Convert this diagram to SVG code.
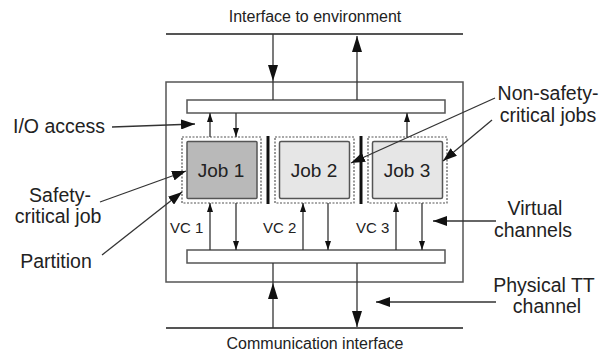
<svg xmlns="http://www.w3.org/2000/svg" width="608" height="354" viewBox="0 0 608 354">
<style>
text{font-family:"Liberation Sans",Arial,sans-serif;fill:#222;}
.bl{font-size:16px;text-anchor:middle;}
.lbl{font-size:19.5px;}
.job{font-size:19px;text-anchor:middle;}
.vc{font-size:15px;}
.ln{stroke:#333;stroke-width:1.3;fill:none;}
.bus{stroke:#555;stroke-width:2;fill:none;}
.box{stroke:#555;stroke-width:1.5;fill:#fff;}
.part{stroke:#555;stroke-width:1.2;stroke-dasharray:2 1.5;fill:none;}
.sep{stroke:#111;stroke-width:3;}
</style>
<defs>
<marker id="big" markerUnits="userSpaceOnUse" viewBox="0 0 16 10" refX="16" refY="5" markerWidth="16" markerHeight="10" orient="auto"><path d="M0,0 L16,5 L0,10 Z" fill="#111"/></marker>
<marker id="sm" markerUnits="userSpaceOnUse" viewBox="0 0 9 6" refX="9" refY="3" markerWidth="9" markerHeight="6" orient="auto"><path d="M0,0 L9,3 L0,6 Z" fill="#111"/></marker>
<marker id="lab" markerUnits="userSpaceOnUse" viewBox="0 0 14 10" refX="14" refY="5" markerWidth="14" markerHeight="10" orient="auto"><path d="M0,0 L14,5 L0,10 Z" fill="#111"/></marker>
</defs>

<g id="buses">
<line class="bus" x1="166" y1="34" x2="463" y2="34"/>
<line class="bus" x1="166" y1="328" x2="463" y2="328"/>
</g>

<g id="node-outer"><rect class="box" x="166" y="82" width="297" height="200"/></g>
<g id="bar-top"><rect class="box" x="187" y="100" width="258" height="13"/></g>
<g id="bar-bottom"><rect class="box" x="187" y="250" width="258" height="13"/></g>

<g id="job1">
<rect class="part" x="182" y="137" width="79" height="66"/>
<rect x="187" y="141.5" width="70" height="57" rx="1" fill="#b9b9b9" stroke="#555" stroke-width="1.5"/>
<text class="job" x="221" y="177">Job 1</text>
</g>
<g id="job2">
<rect class="part" x="275" y="137" width="79" height="66"/>
<rect x="279.5" y="141.5" width="70" height="57" rx="1.5" fill="#e6e6e6" stroke="#555" stroke-width="1.5"/>
<text class="job" x="314" y="177">Job 2</text>
</g>
<g id="job3">
<rect class="part" x="368" y="137" width="79" height="66"/>
<rect x="372.5" y="141.5" width="70" height="57" rx="1.5" fill="#e6e6e6" stroke="#555" stroke-width="1.5"/>
<text class="job" x="407" y="177">Job 3</text>
</g>
<g id="separators">
<line class="sep" x1="268" y1="136" x2="268" y2="204"/>
<line class="sep" x1="361" y1="136" x2="361" y2="204"/>
</g>

<g id="connectors">
<line class="ln" x1="273" y1="34" x2="273" y2="81" marker-end="url(#big)"/>
<line class="ln" x1="273" y1="81" x2="273" y2="100"/>
<line class="ln" x1="357" y1="100" x2="357" y2="36" marker-end="url(#big)"/>
<line class="ln" x1="273" y1="328" x2="273" y2="283" marker-end="url(#big)"/>
<line class="ln" x1="273" y1="283" x2="273" y2="263"/>
<line class="ln" x1="357" y1="263" x2="357" y2="327" marker-end="url(#big)"/>
<line class="ln" x1="210" y1="137" x2="210" y2="113" marker-end="url(#sm)"/>
<line class="ln" x1="236" y1="113" x2="236" y2="137" marker-end="url(#sm)"/>
<line class="ln" x1="407" y1="137" x2="407" y2="113" marker-end="url(#sm)"/>
<line class="ln" x1="210" y1="250" x2="210" y2="203" marker-end="url(#sm)"/>
<line class="ln" x1="236" y1="203" x2="236" y2="250" marker-end="url(#sm)"/>
<line class="ln" x1="303" y1="250" x2="303" y2="203" marker-end="url(#sm)"/>
<line class="ln" x1="328" y1="203" x2="328" y2="250" marker-end="url(#sm)"/>
<line class="ln" x1="396" y1="250" x2="396" y2="203" marker-end="url(#sm)"/>
<line class="ln" x1="422" y1="203" x2="422" y2="250" marker-end="url(#sm)"/>
<line class="ln" x1="112" y1="127" x2="195" y2="124" marker-end="url(#lab)"/>
<line class="ln" x1="100" y1="202" x2="186" y2="171" marker-end="url(#lab)"/>
<line class="ln" x1="102" y1="255" x2="182" y2="192" marker-end="url(#lab)"/>
<line class="ln" x1="495" y1="98" x2="351" y2="163" marker-end="url(#lab)"/>
<line class="ln" x1="492" y1="120" x2="443" y2="161" marker-end="url(#lab)"/>
<line class="ln" x1="496" y1="221" x2="433" y2="221" marker-end="url(#lab)"/>
<line class="ln" x1="496" y1="302" x2="376" y2="302" marker-end="url(#lab)"/>
</g>

<g id="labels">
<text class="bl" x="315" y="22">Interface to environment</text>
<text class="bl" x="315" y="349">Communication interface</text>
<text class="lbl" x="13" y="133">I/O access</text>
<text class="lbl" x="60" y="202" text-anchor="middle">Safety-</text>
<text class="lbl" x="58" y="223" text-anchor="middle">critical job</text>
<text class="lbl" x="56" y="268" text-anchor="middle">Partition</text>
<text class="lbl" x="548" y="100" text-anchor="middle">Non-safety-</text>
<text class="lbl" x="548" y="122" text-anchor="middle">critical jobs</text>
<text class="lbl" x="535" y="215" text-anchor="middle">Virtual</text>
<text class="lbl" x="533" y="237" text-anchor="middle">channels</text>
<text class="lbl" x="544" y="292" text-anchor="middle">Physical TT</text>
<text class="lbl" x="547" y="313" text-anchor="middle">channel</text>
<text class="vc" x="170" y="233">VC 1</text>
<text class="vc" x="263" y="233">VC 2</text>
<text class="vc" x="356" y="233">VC 3</text>
</g>
</svg>
